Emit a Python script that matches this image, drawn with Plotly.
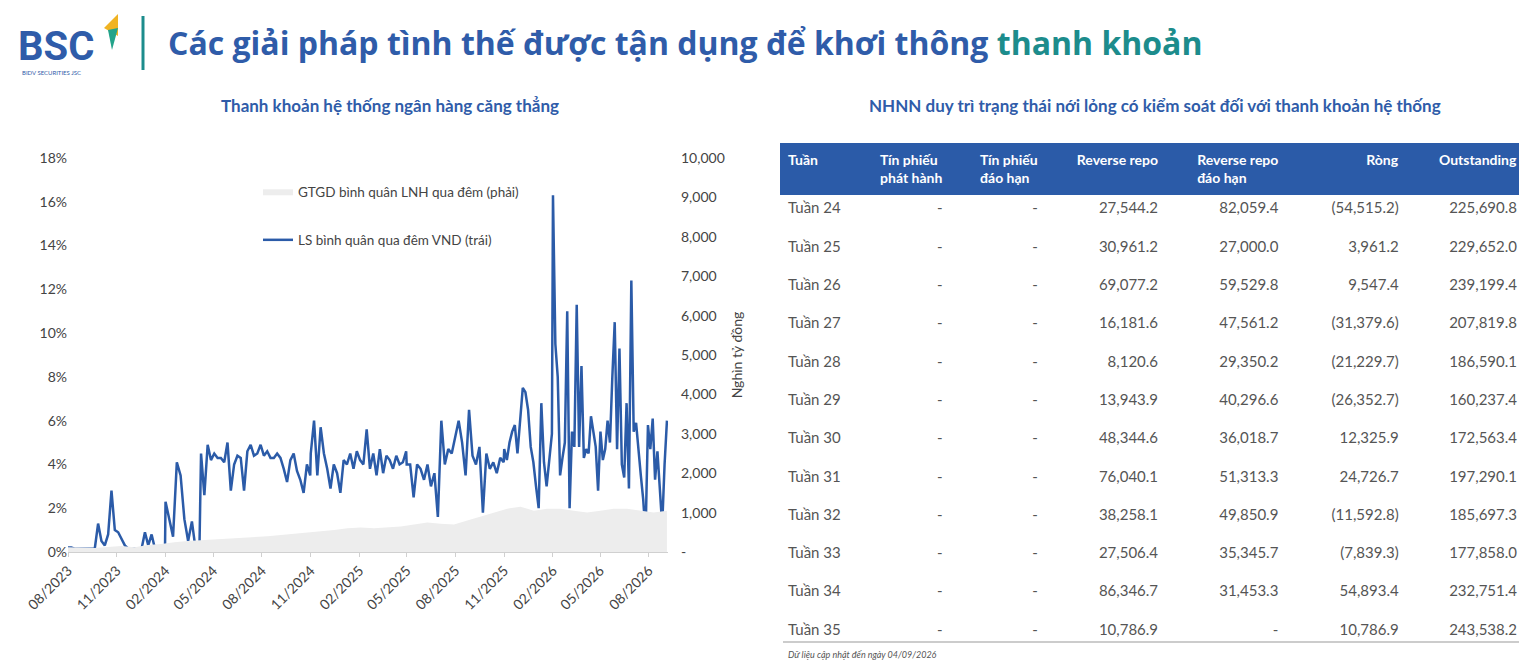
import pandas as pd
import plotly.graph_objects as go

W, H = 1527, 661
BLUE = "#2B5BA8"

# LS binh quan qua dem VND (%), weekly, grouped by period (start, end, values)
rate_a = [0.2, 0.2, 0.15, 0.15, 0.15, 0.15, 0.15, 0.15, 0.15, 1.3, 0.5,
          0.3, 0.8, 2.8, 1.0, 0.9, 0.6, 0.3, 0.15, 0.15, 0.15, 0.15, 0.15, 0.9, 0.3, 0.8, 0.15, 0.15, 0.1, 0.1]
rate_b = [2.3, 1.5, 0.7, 4.1, 3.5, 1.5, 0.5, 1.4, 0.1, 0.2]
rate_c = [4.5, 2.6, 4.9, 4.2, 4.5, 4.3, 4.3, 4.1, 5.0, 2.8, 4.0, 4.4, 4.3, 2.8,
          4.6, 4.9, 4.4, 4.5, 4.9, 4.4, 4.6, 4.3, 4.3, 4.5, 4.3, 3.8, 3.2, 4.2, 4.5, 3.7, 3.3, 2.7, 4.0, 3.5]
rate_d = [4.5, 6.0, 3.5, 5.7, 4.5, 3.8, 2.9, 4.0, 3.6, 2.7, 4.2, 4.0, 4.5, 3.8, 4.6, 4.2, 4.0, 5.6, 3.8, 4.5,
          3.5, 4.7, 3.6, 4.4, 4.2, 3.8, 4.4, 4.0, 4.1, 4.6]
rate_e = [4.0, 4.0, 2.5, 4.0, 3.8, 3.3, 4.0, 3.0, 3.6, 1.6, 6.0, 4.0, 4.7, 4.5, 5.3, 6.0, 5.0, 3.5, 6.5, 4.4,
          4.0, 4.8, 1.8, 4.5, 3.8, 4.1, 3.6, 4.3, 4.1]
rate_f = [4.7, 4.2, 5.0, 5.5, 5.8, 4.5, 6.0, 7.5, 7.3, 6.5, 4.8, 4.1, 3.0, 2.0, 6.8, 4.1, 3.0, 4.2, 5.4]
rate_g = [16.3, 9.5, 8.0, 3.5, 4.3, 5.0, 11.0, 2.0, 5.5, 4.8, 11.3, 4.8, 8.5, 4.3, 4.7, 4.5, 6.2, 5.5, 4.8,
          2.8, 5.5, 4.2, 4.7, 6.0, 5.0, 8.0, 10.5, 4.7, 9.3, 4.0, 3.4, 6.8, 2.9, 12.4, 5.5, 5.9, 4.5, 3.5,
          2.4, 0.8, 5.8, 4.7, 6.1, 3.3, 4.6, 2.9, 1.2, 4.0, 6.0]
periods = [("2023-08-01", "2024-01-31", rate_a), ("2024-02-01", "2024-04-05", rate_b),
           ("2024-04-08", "2024-10-31", rate_c), ("2024-11-01", "2025-04-30", rate_d),
           ("2025-05-01", "2025-10-31", rate_e), ("2025-11-01", "2026-01-30", rate_f),
           ("2026-02-01", "2026-09-04", rate_g)]
rate_dates, rate = [], []
for start, end, vals in periods:
    rate_dates += list(pd.date_range(start, end, periods=len(vals)))
    rate += vals

# GTGD binh quan LNH qua dem (nghin ty dong), monthly
volume = [120, 110, 100, 130, 150, 120, 180, 200, 250, 280, 300, 320, 330, 350, 370, 400, 430,
          460, 500, 530, 560, 600, 620, 600, 620, 650, 700, 750, 720, 700, 800, 900, 1000, 1100,
          1150, 1050, 1100, 1100, 1050, 1000, 1050, 1100, 1100, 1050, 1000, 1050]
vol_dates = pd.date_range("2023-08-01", "2026-09-04", periods=len(volume))

month_ticks = ["2023-08-01", "2023-11-01", "2024-02-01", "2024-05-01", "2024-08-01", "2024-11-01",
               "2025-02-01", "2025-05-01", "2025-08-01", "2025-11-01", "2026-02-01", "2026-05-01",
               "2026-08-01"]
month_labels = ["08/2023", "11/2023", "02/2024", "05/2024", "08/2024", "11/2024", "02/2025",
                "05/2025", "08/2025", "11/2025", "02/2026", "05/2026", "08/2026"]

# Table
weeks = ["Tuần %d" % i for i in range(24, 36)]
tp_issue = ["-"] * 12
tp_mature = ["-"] * 12
rrepo = ["27,544.2", "30,961.2", "69,077.2", "16,181.6", "8,120.6", "13,943.9", "48,344.6",
         "76,040.1", "38,258.1", "27,506.4", "86,346.7", "10,786.9"]
rrepo_mature = ["82,059.4", "27,000.0", "59,529.8", "47,561.2", "29,350.2", "40,296.6", "36,018.7",
                "51,313.3", "49,850.9", "35,345.7", "31,453.3", "-"]
net = ["(54,515.2)", "3,961.2", "9,547.4", "(31,379.6)", "(21,229.7)", "(26,352.7)", "12,325.9",
       "24,726.7", "(11,592.8)", "(7,839.3)", "54,893.4", "10,786.9"]
outstanding = ["225,690.8", "229,652.0", "239,199.4", "207,819.8", "186,590.1", "160,237.4",
               "172,563.4", "197,290.1", "185,697.3", "177,858.0", "232,751.4", "243,538.2"]
headers = ["Tuần", "Tín phiếu<br>phát hành", "Tín phiếu<br>đáo hạn", "Reverse repo",
           "Reverse repo<br>đáo hạn", "Ròng", "Outstanding"]


def px(x):
    return x / W


def py(y):
    return 1 - y / H


fig = go.Figure()
fig.add_trace(go.Scatter(x=vol_dates, y=volume, yaxis="y2", mode="lines", fill="tozeroy",
                         line=dict(width=0, color="#EDEDED"), fillcolor="#EDEDED", legendgroup="a",
                         name="GTGD bình quân LNH qua đêm (phải)"))
fig.add_trace(go.Scatter(x=rate_dates, y=rate, mode="lines", line=dict(color=BLUE, width=2.5),
                         legendgroup="b", name="LS bình quân qua đêm VND (trái)"))

fig.add_trace(go.Table(
    domain=dict(x=[px(772), px(1518)], y=[py(640), py(135)]),
    columnwidth=[75, 95, 95, 120, 120, 120, 118],
    header=dict(values=["<b>%s</b>" % h for h in headers], fill_color=BLUE,
                font=dict(color="white", size=14, family="Lato"), align=["left"] + ["right"] * 6,
                height=40, line=dict(width=1, color=BLUE)),
    cells=dict(values=[weeks, tp_issue, tp_mature, rrepo, rrepo_mature, net, outstanding],
               fill_color="white", font=dict(color="#555", size=15, family="Lato"),
               align=["left"] + ["right"] * 6, height=38.3, line=dict(width=1, color="white"))))

fig.update_layout(
    width=W, height=H, margin=dict(l=0, r=0, t=0, b=0, autoexpand=False),
    plot_bgcolor="white", paper_bgcolor="white",
    font=dict(family="Lato", color="#444", size=14), showlegend=True,
    legend=dict(x=px(250), y=py(168), xanchor="left", yanchor="top", bgcolor="rgba(0,0,0,0)",
                font=dict(size=13.5, color="#444"), tracegroupgap=28, traceorder="grouped"),
    xaxis=dict(domain=[px(60), px(660)], range=["2023-08-01", "2026-09-06"], tickvals=month_ticks,
               ticktext=month_labels, tickangle=-45, showgrid=False, showline=True,
               linecolor="#d0d0d0", ticks="outside", tickcolor="#d0d0d0", ticklen=4, automargin=False),
    yaxis=dict(domain=[py(544), py(150)], range=[0, 18], dtick=2, ticksuffix="%", showgrid=False,
               zeroline=False, anchor="x", automargin=False),
    yaxis2=dict(overlaying="y", side="right", range=[0, 10000], showgrid=False, zeroline=False,
                anchor="x", automargin=False, ticklabelstandoff=12,
                tickvals=list(range(0, 10001, 1000)),
                ticktext=["-"] + ["{:,}".format(v) for v in range(1000, 10001, 1000)],
                title=dict(text="Nghìn tỷ đồng", font=dict(size=14), standoff=8)),
)

ann = [
    dict(x=px(8), y=py(38), text="<b>BSC</b>", font=dict(size=40, color="#2F5CA9", family="Roboto")),
    dict(x=px(12), y=py(64), text="BIDV SECURITIES JSC", font=dict(size=6, color="#2F5CA9")),
    dict(x=px(158), y=py(35),
         text="<b>Các giải pháp tình thế được tận dụng để khơi thông <span style='color:#1C8C8C'>thanh khoản</span></b>",
         font=dict(size=32, color="#2F5CA9", family="Open Sans")),
    dict(x=px(382), y=py(97), text="<b>Thanh khoản hệ thống ngân hàng căng thẳng</b>", xanchor="center",
         font=dict(size=17, color="#2F5CA9")),
    dict(x=px(1147), y=py(97), text="<b>NHNN duy trì trạng thái nới lỏng có kiểm soát đối với thanh khoản hệ thống</b>",
         xanchor="center", font=dict(size=17, color="#2F5CA9")),
    dict(x=px(778), y=py(646), text="<i>Dữ liệu cập nhật đến ngày 04/09/2026</i>",
         font=dict(size=9, color="#555")),
]
for a in ann:
    a.setdefault("xanchor", "left")
    fig.add_annotation(xref="paper", yref="paper", showarrow=False, yanchor="middle", **a)

fig.add_shape(type="line", xref="paper", yref="paper", x0=px(135), x1=px(135), y0=py(8), y1=py(62),
              line=dict(color="#1C8C8C", width=3))
fig.add_shape(type="path", xref="paper", yref="paper",
              path="M %f %f L %f %f L %f %f Z" % (px(96), py(20), px(110), py(6), px(110), py(28)),
              fillcolor="#F0B323", line=dict(width=0))
fig.add_shape(type="path", xref="paper", yref="paper",
              path="M %f %f L %f %f L %f %f Z" % (px(100), py(22), px(110), py(20), px(104), py(42)),
              fillcolor="#22A38A", line=dict(width=0))
fig.add_shape(type="line", xref="paper", yref="paper", x0=px(775), x1=px(1518), y0=py(634), y1=py(634),
              line=dict(color="#bbb", width=1.5))

fig.write_html("out.html")
